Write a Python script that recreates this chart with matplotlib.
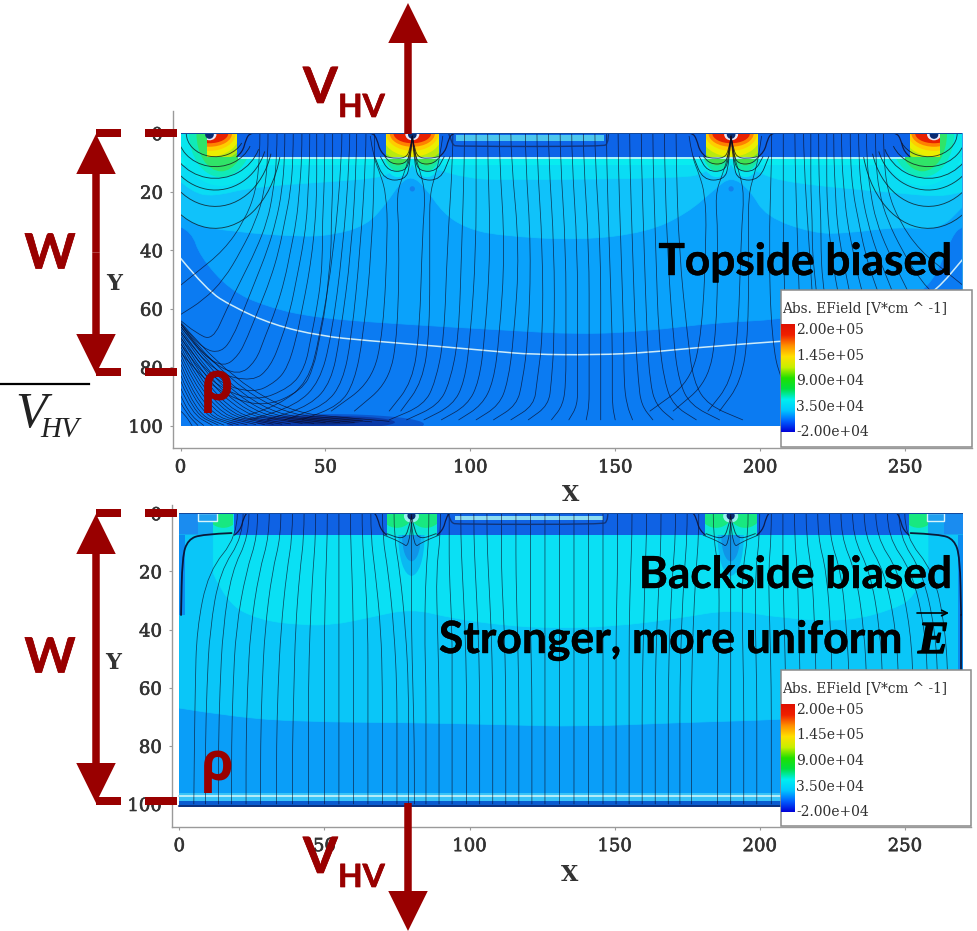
import numpy as np
import matplotlib
matplotlib.use("Agg")
import matplotlib.pyplot as plt
from matplotlib.patches import Rectangle, Ellipse, PathPatch, Arc, FancyArrow
from matplotlib.path import Path
from matplotlib.colors import LinearSegmentedColormap
import matplotlib.patheffects as pe

W, H = 978, 931
RED = "#990000"
GREY = "#9a9a9a"
TXT = "#333333"
SERIF = "DejaVu Serif"
SANS = "Lato"

x_ticks = [0, 50, 100, 150, 200, 250]
y_ticks = [0, 20, 40, 60, 80, 100]
legend_title = "Abs. EField [V*cm ^ -1]"
legend_labels = ["2.00e+05", "1.45e+05", "9.00e+04", "3.50e+04", "-2.00e+04"]
rainbow = ["#0000d8", "#0060ff", "#00c8ff", "#00f0f0", "#00e040", "#20e000", "#c8f000", "#ffe000", "#ff9000", "#f02000", "#e01000"]

# ---------- top panel regions (x, y boundary) ----------
t_c_x = [0, 3.9, 6.7, 17, 29.7, 47, 80, 110, 138, 161, 184, 207, 230, 245, 258.6, 266.6, 270]
t_c_y = [32, 33.6, 42, 53.6, 59.3, 63.2, 65.5, 67.2, 68.8, 67.6, 64.8, 63.7, 60, 58, 53.6, 34, 32]
t_b_x = [0, 4.5, 18, 41, 52.6, 64.3, 71, 75.7, 79.8, 84.4, 90.7, 98.8, 110, 138, 161, 174.7, 184, 190, 196.6, 202, 218.4, 230, 247, 262, 270]
t_b_y = [28, 31.4, 33.6, 35.4, 34.8, 31.4, 24, 17, 14.6, 18.3, 27.4, 32.5, 35, 36.6, 33.8, 27.4, 19.4, 14.6, 19.4, 28.5, 34.2, 34.2, 32, 33, 25]
t_a_x = [0, 4, 11, 25, 52.6, 67.7, 72.3, 80, 87, 99, 110, 174, 181, 190, 199, 210, 247, 262, 270]
t_a_y = [16.5, 20, 21.7, 18.3, 16.5, 15.3, 13.7, 8, 12, 15.3, 16, 15.3, 13.5, 8, 13.5, 17, 20.4, 21.7, 20]
t_white_x = [0, 9, 18, 32, 48.2, 64.3, 87.3, 110, 120.6, 143.6, 160.9, 178, 207, 225, 240, 252, 261, 270]
t_white_y = [42.7, 53.6, 59.3, 65.5, 69.3, 70.9, 72.7, 74.7, 75.6, 75.8, 75, 73.3, 71.1, 70, 65.5, 59, 53.6, 43]

# ---------- top panel field lines ----------
t_fan = [
    ([27.4, 26, 22, 15, 5, 0], [8, 20, 30, 40, 48, 52]),
    ([30.2, 29, 26, 21, 15, 8, 0], [8, 20, 30, 40, 50, 57, 62]),
    ([33.3, 32, 30, 26, 21, 16, 11, 5, 0], [8, 20, 30, 40, 50, 60, 71, 68, 64]),
    ([36, 35, 33, 30, 26, 22, 18, 14, 8, 0], [8, 20, 30, 40, 50, 60, 70, 75, 74, 65]),
    ([38.9, 38, 36, 34, 31, 27, 23, 20, 15, 8, 0], [8, 20, 30, 40, 50, 60, 70, 76, 80, 76, 65]),
    ([41.9, 41, 40, 38, 36, 33, 29, 26, 20, 10, 0], [8, 20, 30, 40, 50, 60, 70, 78, 83, 78, 66]),
    ([44.6, 44, 43.5, 42, 40, 38, 35, 31, 25, 12, 0], [8, 20, 30, 40, 50, 60, 70, 80, 85, 82, 68]),
    ([47, 47, 46.5, 45.5, 44, 42, 40, 37, 33, 25, 12, 0], [8, 20, 30, 40, 50, 60, 70, 80, 85, 89, 85, 70]),
    ([49.8, 49.5, 49, 49, 48.5, 47, 45, 43, 38, 25, 10, 0], [8, 20, 30, 40, 50, 60, 70, 80, 87, 92, 85, 72]),
    ([52.5, 52.5, 52, 52, 51, 50, 48, 46, 42, 28, 12, 0], [8, 20, 30, 40, 50, 60, 70, 80, 88, 94, 88, 75]),
]
fan_y0 = [64.5, 65.2, 66, 66.8, 67.6, 68.5, 69.5, 70.5, 71.6, 72.8, 74, 75.5, 77, 78.7, 80.5, 82.5, 84.5, 87, 89.5, 92, 95]
fan_xe = [72, 66, 60, 55, 50, 46, 42, 38, 35, 32, 29, 26, 23, 20, 18, 15, 13, 11, 8, 6, 4]
fan_ye = [98.5, 98.7, 98.9, 99, 99, 99.2, 99.2, 99.4, 99.5, 99.5, 99.6, 99.6, 99.7, 99.7, 99.8, 99.8, 99.8, 99.9, 99.9, 99.9, 100]

t_levels = [8, 40, 70, 85, 93, 98]
t_rows = [
    [55.7, 53, 48, 44, 34, 18], [58.4, 56, 52, 48, 40, 24], [60.8, 59, 55, 52, 45, 30],
    [64, 62, 59, 56, 50, 36], [67, 66, 63, 60, 55, 42],
    [102, 102, 100, 98, 94, 84], [94, 92, 91, 88, 84, 72], [98, 97, 96, 93, 89, 78],
    [106, 107, 105, 103, 99, 90], [110, 112, 110, 108, 104, 96], [114, 117, 115, 113, 110, 102],
    [119, 121, 120, 118, 116, 108], [123, 125, 125, 123, 122, 114], [127, 129, 129, 128, 127, 120],
    [131, 133, 133, 133, 132, 128], [135, 137, 137, 137, 137, 134], [139, 141, 141, 141, 141, 140],
    [143, 145, 145, 145, 145, 145], [147, 148, 149, 149, 149, 150], [151, 152, 153, 153, 154, 156],
    [155, 156, 157, 158, 159, 163], [159, 160, 161, 162, 164, 170], [163, 164, 165, 167, 170, 178],
    [167, 168, 170, 172, 176, 186], [171, 172, 175, 177, 182, 194],
    [204, 203, 204, 207, 215, 240], [208, 208, 209, 212, 220, 246],
    [212, 213, 214, 217, 224, 250], [215, 217, 219, 222, 229, 254],
]
t_inner_levels = [1, 8, 14, 21, 34, 68, 85, 95]
t_inner_dx = [
    [0, -1, -3, -5.5, -4.5, -5, -8, -20],
    [0, 1, 3, 4.5, 3.5, 2.5, 0, -8],
    [-14.5, -13.5, -11, -9, -8.5, -10, -14, -28],
    [10.5, 9.5, 8, 6, 6, 6, 3.5, -4],
]
t_lobe_d = [8.5, 10.5, 13, 16]
t_lobe_w = [9, 9.5, 11, 13]
t_arc_a = [10, 13, 16, 18, 20, 23]
t_arc_b = [8, 11.4, 15.4, 19.4, 25, 32.5]

# ---------- bottom panel ----------
b_c_x = [0, 18.6, 41.7, 80, 110.7, 138, 172, 207, 240, 270]
b_c_y = [67, 70, 71.7, 72, 72.7, 73.4, 72, 71, 69, 67]
b_b_x = [11.7, 16.3, 27.8, 41.7, 53, 64.7, 80, 93.4, 110.7, 126.6, 149.6, 172.6, 190, 207, 230, 247, 253, 258]
b_b_y = [20.6, 31, 36.7, 38.4, 38.4, 36, 32.7, 36, 38.4, 39.5, 39, 36, 33, 36, 37.3, 32.7, 28.7, 18]
b_rows_levels = [8, 20, 40, 60, 80, 100]
b_rows = [
    [20, 10, 6, 5.5, 5.2, 5], [22, 14, 10.5, 9.5, 9, 9], [24, 18, 15, 14, 13.5, 13.5],
    [27, 23, 19.5, 18.5, 18, 18], [31, 27.5, 24.5, 23.5, 23, 23], [35, 32, 29.5, 28.5, 28, 28],
    [39, 37, 35, 34, 33.5, 33.5], [43, 41.5, 40, 39.5, 39, 39], [47, 46, 45, 44.5, 44.5, 44.5],
    [51, 50.5, 50, 50, 50, 50], [55, 55, 55, 55, 55, 55], [59, 59.5, 60, 60, 60, 60],
    [63, 64, 65, 65, 65, 65], [66, 67.5, 69.5, 70, 70, 70], [70, 72, 74, 75, 75, 75],
    [74, 76, 78, 79, 79, 79], [80, 80, 80, 80.5, 81, 81],
    [86, 85, 84.5, 85, 85, 85], [90, 88.5, 89, 89.5, 89.5, 89.5], [93, 93, 94, 94, 94, 94],
    [97, 97.5, 98.5, 99, 99, 99], [101.5, 102, 103, 103.5, 103.5, 103.5], [106, 106.5, 107.5, 108, 108, 108],
    [111, 111, 112, 112.5, 112.5, 112.5], [116, 116, 116.5, 117, 117, 117], [121, 121, 121, 121.5, 121.5, 121.5],
    [126, 126, 126, 126, 126, 126], [131, 131, 131, 131, 131, 131], [136, 136, 136, 136, 136, 136],
    [141, 141, 141, 141, 141, 141], [146, 146, 146, 146, 146, 146], [151, 151, 150.5, 150.5, 150.5, 150.5],
    [156, 155.5, 155, 155, 155, 155], [161, 160.5, 160, 159.5, 159.5, 159.5], [166, 165.5, 164.5, 164, 164, 164],
    [171, 170, 169, 168.5, 168.5, 168.5], [175, 174, 173, 172.5, 172.5, 172.5], [179, 178, 177, 176.5, 176.5, 176.5],
    [184, 186, 186, 185.5, 185.5, 185.5], [190, 190, 190, 190, 190, 190], [196, 194, 194, 194.5, 194.5, 194.5],
    [200, 198.5, 198.5, 199, 199, 199], [204, 203, 203.5, 204, 204, 204], [208, 208, 208.5, 209, 209, 209],
    [212, 213, 213.5, 214, 214, 214], [216, 218, 219, 219.5, 219.5, 219.5], [220, 223, 224.5, 225, 225, 225],
    [224, 228, 230, 231, 231, 231], [228, 233, 236, 237, 237, 237], [232, 238, 241.5, 242.5, 242.5, 242.5],
    [236, 243, 247, 248, 248, 248], [240, 248, 252, 253, 253, 253], [244, 252.5, 257, 258, 258, 258],
    [248, 256, 260.5, 261.5, 261.5, 261.5], [250, 260, 264, 265, 265, 265],
]
b_wall_x = [18, 8, 3, 1, 0.6]
b_wall_y = [6.8, 7.2, 9, 15, 35]

fig = plt.figure(figsize=(W / 100, H / 100), dpi=100, facecolor="white")


def panel(left, right, top, bottom, x0, sx, y0, sy, xlab_px, ylab_px, xlab_y, ylab_x):
    ax = fig.add_axes([left / W, 1 - bottom / H, (right - left) / W, (bottom - top) / H])
    ax.set_xlim((left - x0) / sx, (right - x0) / sx)
    ax.set_ylim((bottom - y0) / sy, (top - y0) / sy)
    for s in ("top", "right"):
        ax.spines[s].set_visible(False)
    for s in ("left", "bottom"):
        ax.spines[s].set_color(GREY)
        ax.spines[s].set_linewidth(1)
    ax.set_xticks(x_ticks)
    ax.set_yticks(y_ticks)
    ax.tick_params(length=2.5, width=0.8, color=GREY, pad=5)
    for t in ax.get_xticklabels() + ax.get_yticklabels():
        t.set_fontfamily(SERIF)
        t.set_fontsize(13)
        t.set_color(TXT)
        t.set_path_effects([pe.withStroke(linewidth=0.45, foreground=TXT)])
    ax.set_xlabel("X", fontfamily=SERIF, fontsize=16, color=TXT, fontweight="bold")
    ax.set_ylabel("Y", fontfamily=SERIF, fontsize=16, color=TXT, fontweight="bold", rotation=0)
    ax.xaxis.set_label_coords((xlab_px - left) / (right - left), (bottom - xlab_y) / (bottom - top))
    ax.yaxis.set_label_coords((ylab_x - left) / (right - left), (bottom - ylab_px) / (bottom - top))
    ax.xaxis.label.set_verticalalignment("center")
    ax.yaxis.label.set_verticalalignment("center")
    ax.yaxis.label.set_horizontalalignment("center")
    return ax


def curve_path(xs, ys, close_to=None):
    pts = list(zip(xs, ys))
    v, c = [pts[0]], [Path.MOVETO]
    for i in range(1, len(pts) - 1):
        mid = ((pts[i][0] + pts[i + 1][0]) / 2, (pts[i][1] + pts[i + 1][1]) / 2)
        v += [pts[i], mid]
        c += [Path.CURVE3, Path.CURVE3]
    v.append(pts[-1])
    c.append(Path.LINETO)
    if close_to is not None:
        v += [(xs[-1], close_to), (xs[0], close_to), pts[0]]
        c += [Path.LINETO, Path.LINETO, Path.CLOSEPOLY]
    return Path(v, c)


def smooth(ax, xs, ys, clip, color="#0a0a20", lw=0.55, alpha=0.72, z=20):
    p = PathPatch(curve_path(xs, ys), fc="none", ec=color, lw=lw, alpha=alpha, zorder=z, capstyle="round")
    ax.add_patch(p)
    p.set_clip_path(clip)
    return p


def region(ax, clip, xs, ys, y_top, color, z):
    p = PathPatch(curve_path(xs, ys, close_to=y_top), fc=color, ec=color, lw=0.5, zorder=z)
    ax.add_patch(p)
    p.set_clip_path(clip)


def rect(ax, clip, x0, x1, y0, y1, color, z, lw=0):
    p = Rectangle((x0, y0), x1 - x0, y1 - y0, fc=color, ec=color, lw=lw, zorder=z)
    ax.add_patch(p)
    p.set_clip_path(clip)
    return p


def ell(ax, clip, cx, cy, a, b, color, z):
    p = Ellipse((cx, cy), 2 * a, 2 * b, fc=color, ec=color, lw=0, zorder=z)
    ax.add_patch(p)
    p.set_clip_path(clip)


def trench(ax, clip, edge, sign, y_bot):
    dx = [0, 2, 3.2, 4.5, 7]
    dy = [y_bot, y_bot - 1.5, y_bot - 6, y_bot - 8, y_bot - 8]
    smooth(ax, [edge + sign * d for d in dx], dy, clip, color="#101030", lw=0.9, alpha=0.85, z=22)


def plate(ax, clip, strip, y0, y1, yb):
    rect(ax, clip, 95, 146, y0, y1, strip, 16)
    smooth(ax, [92.5, 93.3, 94, 95.5, 146, 147.4, 147.7], [0, 2, yb - 0.5, yb, yb, yb - 1, 0], clip,
           color="#123070", lw=1.0, alpha=0.9, z=22)


# =================== TOP PANEL ===================
ax1 = panel(173.3, 972, 111, 448, 180.5, 2.898, 133.3, 2.924, 571, 284, 495, 114)
clip1 = Rectangle((0, 0), 270, 100, transform=ax1.transData)
rect(ax1, clip1, 0, 270, 0, 100, "#0b7bf2", 1)
region(ax1, clip1, t_c_x, t_c_y, 0, "#0aa2fb", 2)
region(ax1, clip1, t_b_x, t_b_y, 0, "#10c2fa", 3)
region(ax1, clip1, t_a_x, t_a_y, 0, "#0adcf4", 4)
rect(ax1, clip1, 0, 270, 8, 11, "#08ecf0", 5)
ell(ax1, clip1, 50, 99.5, 34, 3.5, "#0a58d0", 6)
ell(ax1, clip1, 50, 98.8, 24, 2.2, "#0a3aa8", 7)
ell(ax1, clip1, 50, 98.3, 13, 1.3, "#0a2a80", 8)
# glows round the edge electrodes (narrower towards the side walls)
for cx in (14, 256):
    for a, b, c in [(15, 18, "#08e6ee"), (11, 15, "#10eab8"), (8.5, 13, "#30e468")]:
        ell(ax1, clip1, cx, 0, a, b, c, 9)
for cx in (80, 190):
    for dx in (-5, 5):
        for a, b, c in [(7, 15, "#08e6ee"), (6, 13, "#18e8a0"), (5.5, 11, "#40e050")]:
            ell(ax1, clip1, cx + dx, 0, a, b, c, 9)
for x0, x1 in [(19.4, 71), (89.3, 181.3), (199.4, 251.7)]:
    rect(ax1, clip1, x0, x1, 0, 8, "#0d64e8", 12)
rect(ax1, clip1, 20, 250, 8, 8.7, "#a8f4f8", 13)
for ex0, ex1, cx in [(9, 19.4, 10), (71, 89.3, 80), (181.3, 199.4, 190), (251.7, 262, 260)]:
    r = Rectangle((ex0, 0), ex1 - ex0, 8, transform=ax1.transData)
    rect(ax1, r, ex0, ex1, 0, 8, "#70e430", 14)
    for a, b, c in [(12.5, 10, "#b8ea10"), (10.5, 8, "#ecee00"), (9, 6, "#ffcc00"),
                    (7.8, 4.6, "#ff8000"), (6.5, 3.4, "#e82000")]:
        ell(ax1, r, cx, 0, a, b, c, 15)
    ell(ax1, r, cx, 0.4, 2.4, 2.0, "#e8e8f8", 16)
    ell(ax1, clip1, cx, 0.4, 1.5, 1.5, "#0a2a70", 17)
for cx in (80, 190):
    ell(ax1, clip1, cx, 19, 0.9, 0.9, "#1280ee", 6)
plate(ax1, clip1, "#4cc6ee", 0.6, 2.5, 4.5)
rect(ax1, clip1, 0, 270, -0.1, 0.35, "#124a9e", 24)
for edge, s in [(19.4, 1), (71, -1), (89.3, 1), (181.3, -1), (199.4, 1), (251.7, -1)]:
    trench(ax1, clip1, edge, s, 8)
smooth(ax1, t_white_x, t_white_y, clip1, color="#d8f2fa", lw=1.1, alpha=0.95, z=19)
for xs, ys in t_fan:
    smooth(ax1, [xs[0]] + xs, [0] + ys, clip1)
    smooth(ax1, [270 - v for v in [xs[0]] + xs], [0] + ys, clip1)
for y0_, xe, ye in zip(fan_y0, fan_xe, fan_ye):
    smooth(ax1, [0, xe * 0.35, xe], [y0_, ye - 4, ye], clip1, lw=0.45, alpha=0.85)
for row in t_rows:
    smooth(ax1, [row[0]] + row, [0] + t_levels, clip1)
for cx in (80, 190):
    for dxs in t_inner_dx:
        smooth(ax1, [cx + d for d in dxs], t_inner_levels, clip1)
    for s in (-1, 1):
        for d, w in zip(t_lobe_d, t_lobe_w):
            smooth(ax1, [cx, cx + s * 0.8, cx + s * 2.5, cx + s * w * 0.75, cx + s * w],
                   [1, d * 0.7, d, d, 8], clip1, lw=0.6, alpha=0.8, z=21)
for cx, s in [(10, 1), (260, -1)]:
    for a, b in zip(t_arc_a, t_arc_b):
        th = (20, 180) if s == 1 else (0, 160)
        p = Arc((cx + s * 2, 0), 2 * a, 2 * b, theta1=th[0], theta2=th[1], ec="#101820", lw=0.65, alpha=0.8, zorder=21)
        ax1.add_patch(p)
        p.set_clip_path(clip1)
rect(ax1, clip1, 269.6, 270, 0, 100, "#30a0e8", 25)

# =================== BOTTOM PANEL ===================
ax2 = panel(172.3, 971, 505, 826.7, 179.3, 2.902, 513.3, 2.907, 570, 663, 875, 113)
clip2 = Rectangle((0, 0), 270, 101, transform=ax2.transData)
rect(ax2, clip2, 0, 270, 0, 101, "#0a9ef8", 1)
region(ax2, clip2, b_c_x, b_c_y, 0, "#0ac6f8", 2)
region(ax2, clip2, b_b_x, b_b_y, 0, "#0ae0f4", 3)
for cx in (80, 190):
    ell(ax2, clip2, cx, 8, 4.5, 13.5, "#0ab8f2", 4)
    ell(ax2, clip2, cx, 8, 3.2, 8.5, "#1094e8", 5)
rect(ax2, clip2, 0, 18, 0, 7.5, "#12a8f2", 4)
rect(ax2, clip2, 252, 270, 0, 7.5, "#12a8f2", 4)
rect(ax2, clip2, 0, 2, 7.5, 35, "#0a8cf0", 4)
rect(ax2, clip2, 268.5, 270, 7.5, 60, "#0a8cf0", 4)
for x0, x1 in [(19, 71.5), (88.8, 181.3), (199, 251.5)]:
    rect(ax2, clip2, x0, x1, 0, 7.5, "#0f62e4", 12)
rect(ax2, clip2, 0, 6.5, 0, 7, "#1a8cf0", 11)
rect(ax2, clip2, 263.5, 270, 0, 7, "#1a8cf0", 11)
for ex0, ex1, cx in [(11.7, 18.6, 10), (71.5, 88.8, 80), (181.3, 199, 190), (251.5, 258, 260)]:
    r = Rectangle((ex0, 0), ex1 - ex0, 7.5, transform=ax2.transData)
    rect(ax2, r, ex0, ex1, 0, 7.5, "#0ce6d8", 14)
    if cx in (80, 190):
        for s in (-1, 1):
            ell(ax2, r, cx + s * 5, 0, 5.5, 5, "#18e880", 15)
        ell(ax2, r, cx, 1, 2.6, 2.2, "#9af0f0", 16)
        ell(ax2, clip2, cx, 0.8, 1.4, 1.4, "#0a2a70", 17)
    else:
        ell(ax2, r, (ex0 + ex1) / 2, 0, 5.5, 5, "#18e880", 15)
for x0, x1 in [(6.5, 12.9), (257.5, 263.5)]:
    p = Rectangle((x0, 0), x1 - x0, 2.6, fc="#20a0f0", ec="#d8f4fa", lw=1.0, zorder=16)
    ax2.add_patch(p)
    p.set_clip_path(clip2)
plate(ax2, clip2, "#8cdcf2", 0.9, 2.2, 3.8)
rect(ax2, clip2, 0, 270, -0.1, 0.35, "#124a9e", 24)
rect(ax2, clip2, 0, 270, 96.3, 98.8, "#38c4f8", 6)
rect(ax2, clip2, 0, 270, 98.8, 101, "#0a5cd0", 6)
ax2.plot([0, 270], [97.4, 97.4], color="#b8eefa", lw=1.4, zorder=7)
ax2.plot([0, 270], [100.8, 100.8], color="#0a2a70", lw=1.2, zorder=7)
for edge, s in [(19, 1), (71.5, -1), (88.8, 1), (181.3, -1), (199, 1), (251.5, -1)]:
    trench(ax2, clip2, edge, s, 7.5)
for row in b_rows:
    smooth(ax2, [row[0]] + row, [0] + b_rows_levels, clip2, lw=0.55, alpha=0.7)
smooth(ax2, b_wall_x, b_wall_y, clip2, lw=1.3, alpha=0.95, color="#0a1030", z=23)
smooth(ax2, [270 - v for v in b_wall_x], b_wall_y, clip2, lw=1.3, alpha=0.95, color="#0a1030", z=23)
ax2.plot([269.3, 269.3], [35, 62], color="#0a1030", lw=1.2, zorder=23)
for cx in (80, 190):
    for s in (-1, 1):
        smooth(ax2, [cx, cx + s * 1, cx + s * 3, cx + s * 8.5], [1, 6, 9, 7], clip2, lw=0.7)
        smooth(ax2, [cx, cx + s * 0.8, cx + s * 3.5, cx + s * 9.5], [3, 12, 10, 7.5], clip2, lw=0.6)

# =================== OVERLAY ===================
ov = fig.add_axes([0, 0, 1, 1], zorder=50)
ov.set_xlim(0, W)
ov.set_ylim(H, 0)
ov.axis("off")
ov.patch.set_alpha(0)


def legend(x0, x1, y0, y1, title_y, bar0, bar1, label_ys):
    ov.add_patch(Rectangle((x0, y0), x1 - x0, y1 - y0, fc="white", ec="#8a8a8a", lw=1.1, zorder=5))
    cmap = LinearSegmentedColormap.from_list("r", rainbow)
    grad = np.linspace(1, 0, 256).reshape(-1, 1)
    ov.imshow(grad, cmap=cmap, extent=(x0 + 0.5, x0 + 14, bar1, bar0), aspect="auto", zorder=6)
    ov.text(x0 + 1, title_y, legend_title, fontfamily=SERIF, fontsize=9.8, color="#303030", va="center", ha="left", zorder=7)
    for lab, y in zip(legend_labels, label_ys):
        ov.text(x0 + 15.5, y, lab, fontfamily=SERIF, fontsize=10, color="#303030", va="center", ha="left", zorder=7)


legend(780.7, 972, 290, 447, 308, 324, 432, [330, 355.6, 381, 407, 432.5])
legend(780.7, 971, 670, 826, 688, 704, 812, [710, 735, 761, 787, 812])
ov.set_xlim(0, W)
ov.set_ylim(H, 0)


def hbar(x0, x1, y, color=RED, t=7.5):
    ov.add_patch(Rectangle((x0, y - t / 2), x1 - x0, t, fc=color, ec="none", zorder=8))


def v_arrow(x, y_from, y_to, head_len=40, head_w=39.5, shaft=7.5):
    ov.add_patch(FancyArrow(x, y_from, 0, y_to - y_from, width=shaft, head_width=head_w, head_length=head_len,
                            length_includes_head=True, fc=RED, ec="none", zorder=9))


fat_red = [pe.withStroke(linewidth=0.5, foreground=RED)]
fat_blk = [pe.withStroke(linewidth=0.3, foreground="black")]

for ytop, ybot, ymid_w, rho_y in [(133, 372, 254, 386), (513, 801, 658, 766)]:
    for y in (ytop, ybot):
        hbar(96, 121, y)
        hbar(145, 177, y)
    mid = (ytop + ybot) / 2
    v_arrow(96, mid, ytop + 1)
    v_arrow(96, mid, ybot + 2)
    ov.text(50, ymid_w, "W", fontfamily=SANS, fontweight="bold", fontsize=35, color=RED, ha="center", va="center",
            zorder=9, path_effects=fat_red)
    ov.text(217, rho_y, "ρ", fontfamily="Open Sans", fontweight="bold", fontsize=38, color=RED, ha="center", va="center", zorder=9)

v_arrow(408, 134, 3)
v_arrow(408, 803, 931)
for vb, hb in [(103, 117), (873, 887)]:
    ov.text(303, vb, "V", fontfamily=SANS, fontweight="bold", fontsize=36, color=RED, ha="left", va="baseline", zorder=9, path_effects=fat_red)
    ov.text(338, hb, "HV", fontfamily=SANS, fontweight="bold", fontsize=23, color=RED, ha="left", va="baseline", zorder=9, path_effects=fat_red)

ov.plot([0, 89], [383.7, 383.7], color="black", lw=1.6, zorder=8)
ov.text(15, 427, "V", fontfamily="Liberation Serif", style="italic", fontsize=37, color="#222222", ha="left", va="baseline", zorder=8)
ov.text(40, 437, "HV", fontfamily="Liberation Serif", style="italic", fontsize=21, color="#222222", ha="left", va="baseline", zorder=8)

ov.text(952, 275, "Topside biased", fontfamily=SANS, fontweight="bold", fontsize=31.8, color="black", ha="right", va="baseline", zorder=4, path_effects=fat_blk)
ov.text(952, 588, "Backside biased", fontfamily=SANS, fontweight="bold", fontsize=31.8, color="black", ha="right", va="baseline", zorder=4, path_effects=fat_blk)
ov.text(903, 653, "Stronger, more uniform", fontfamily=SANS, fontweight="bold", fontsize=32, color="black", ha="right", va="baseline", zorder=4, path_effects=fat_blk)
ov.text(918, 653, "E", fontfamily="Liberation Serif", style="italic", fontweight="bold", fontsize=33, color="black", ha="left", va="baseline", zorder=4,
        path_effects=[pe.withStroke(linewidth=1.0, foreground="black")])
ov.annotate("", xy=(949, 613), xytext=(917, 613), arrowprops=dict(arrowstyle="->", color="black", lw=1.2, shrinkA=0, shrinkB=0), zorder=4)

fig.savefig("out.png", dpi=100)
